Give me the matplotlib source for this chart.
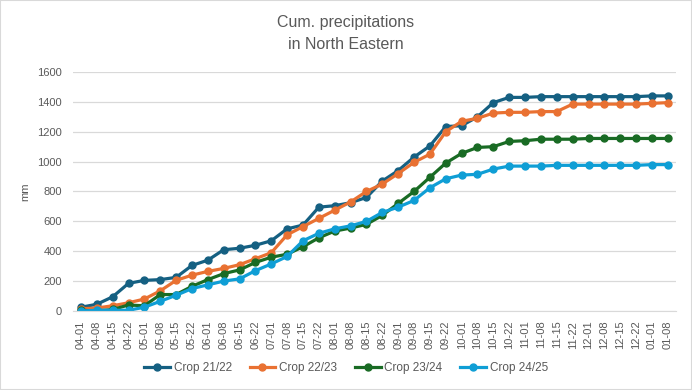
import matplotlib
matplotlib.use("Agg")
import matplotlib.pyplot as plt
from matplotlib.patches import Rectangle

plt.rcParams['font.family'] = ['Liberation Sans', 'DejaVu Sans']

# weeks of the season
weeks = ['04-01', '04-08', '04-15', '04-22', '05-01', '05-08', '05-15', '05-22',
         '06-01', '06-08', '06-15', '06-22', '07-01', '07-08', '07-15', '07-22',
         '08-01', '08-08', '08-15', '08-22', '09-01', '09-08', '09-15', '09-22',
         '10-01', '10-08', '10-15', '10-22', '11-01', '11-08', '11-15', '11-22',
         '12-01', '12-08', '12-15', '12-22', '01-01', '01-08']

crop_21_22 = [25, 45, 95, 185, 205, 210, 225, 305, 340, 410, 420, 440, 470, 550,
              575, 695, 705, 725, 760, 870, 940, 1030, 1105, 1235, 1240, 1300,
              1395, 1430, 1430, 1435, 1435, 1435, 1435, 1435, 1435, 1435, 1440, 1440]
crop_22_23 = [15, 20, 35, 55, 80, 135, 205, 240, 265, 285, 310, 350, 390, 510,
              565, 620, 675, 730, 800, 850, 920, 995, 1050, 1200, 1270, 1290,
              1325, 1330, 1330, 1335, 1335, 1385, 1385, 1385, 1385, 1385, 1390, 1395]
crop_23_24 = [5, 0, 10, 40, 35, 110, 110, 165, 210, 250, 275, 325, 360, 380,
              430, 490, 535, 555, 580, 640, 720, 800, 895, 990, 1055, 1095,
              1100, 1135, 1140, 1150, 1150, 1150, 1155, 1155, 1155, 1155, 1155, 1155]
crop_24_25 = [0, 5, 5, 5, 25, 65, 105, 150, 175, 200, 215, 270, 315, 365,
              470, 520, 550, 570, 600, 660, 695, 740, 825, 885, 910, 915,
              950, 970, 970, 970, 975, 975, 975, 975, 975, 975, 980, 980]

series = [('Crop 21/22', crop_21_22, '#156082'),
          ('Crop 22/23', crop_22_23, '#E97132'),
          ('Crop 23/24', crop_23_24, '#196B24'),
          ('Crop 24/25', crop_24_25, '#0F9ED5')]

txt = '#595959'

fig = plt.figure(figsize=(6.92, 3.9), dpi=100)
ax = fig.add_axes([0.1055, 0.2026, 0.871, 0.6128])

x = list(range(len(weeks)))
for name, vals, col in series:
    ax.plot(x, vals, color=col, lw=2.3, marker='o', ms=5, label=name)

ax.set_xlim(-0.5, len(weeks) - 0.5)
ax.set_ylim(0, 1600)
ax.set_yticks(range(0, 1601, 200))
ax.set_xticks(x)
ax.set_xticklabels(weeks, rotation=90, fontsize=8, color=txt)
ax.tick_params(axis='y', labelsize=8, colors=txt, length=0, pad=8)
ax.tick_params(axis='x', length=0, pad=7)
ax.grid(axis='y', color='#d9d9d9', lw=0.9)
ax.set_axisbelow(True)
for s in ['top', 'right', 'left']:
    ax.spines[s].set_visible(False)
ax.spines['bottom'].set_color('#d9d9d9')
ax.set_ylabel('mm', fontsize=8, color=txt, labelpad=5)

fig.text(0.5, 0.914, 'Cum. precipitations\nin North Eastern', ha='center', va='center',
         fontsize=11.5, color=txt, linespacing=1.65)

fig.legend(loc='center', bbox_to_anchor=(0.5, 0.056), ncol=4, frameon=False,
           fontsize=8.5, labelcolor=txt, handlelength=2.2, handletextpad=0.3,
           columnspacing=1.5)

fig.patches.append(Rectangle((0, 0), 1, 1, transform=fig.transFigure,
                             fill=False, edgecolor='#d9d9d9', lw=1.5))

fig.savefig('out.png', dpi=100)
